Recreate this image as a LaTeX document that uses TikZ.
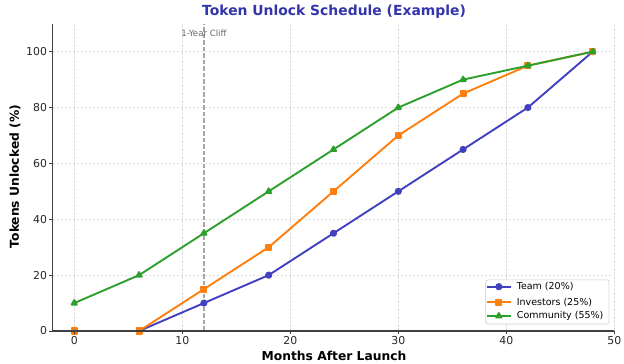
\documentclass[tikz,border=0pt]{standalone}
\usepackage{fontspec}
\setmainfont{DejaVu Sans}
\usepackage{xcolor}
\usepackage{tikz}
\usetikzlibrary{plotmarks}
\definecolor{team}{HTML}{4040C0}
\definecolor{investor}{HTML}{FF7F0E}
\definecolor{community}{HTML}{2CA02C}
\definecolor{heading}{HTML}{3434AC}
\definecolor{spine}{HTML}{404040}

\tikzset{
  gridline/.style={black!13, dash pattern=on 2.5pt off 1.5pt, line width=0.5pt},
  series/.style={line width=1.9pt, mark size=2.6pt, line join=round},
  ticklbl/.style={font=\fontsize{10.9}{12}\selectfont, text=black!85, inner sep=1pt},
  axislbl/.style={font=\fontsize{12.3}{14}\selectfont\bfseries},
  legendtxt/.style={font=\fontsize{9.5}{11}\selectfont, anchor=west, inner sep=0pt}
}

\begin{document}
\begin{tikzpicture}[x=10.8pt, y=2.793pt]
\useasboundingbox (-74.3pt,-33pt) rectangle (549.7pt,331pt);
% grid
\foreach \gx in {0,10,...,50} \draw[gridline] (\gx,0) -- (\gx,110);
\foreach \gy in {20,40,...,100} \draw[gridline] (-2,\gy) -- (50,\gy);
% cliff marker
\draw[black!35, dash pattern=on 4.5pt off 2pt, line width=1.2pt] (12,0) -- (12,110);
\node[font=\fontsize{8.6}{10}\selectfont, text=black!60, inner sep=0pt] (cliff) at (12,106.6) {1-Year Cliff};
% series
\draw[series, team, mark=*] plot coordinates {(0,0) (6,0) (12,10) (18,20) (24,35) (30,50) (36,65) (42,80) (48,100)};
\draw[series, investor, mark=square*] plot coordinates {(0,0) (6,0) (12,15) (18,30) (24,50) (30,70) (36,85) (42,95) (48,100)};
\draw[series, community, mark=triangle*, mark size=3pt] plot coordinates {(0,10) (6,20) (12,35) (18,50) (24,65) (30,80) (36,90) (42,95) (48,100)};
% axes
\draw[spine, line width=1.1pt] (-2,110) -- (-2,0) -- (50,0);
\foreach \gx in {0,10,...,50} {
  \draw[spine, line width=0.9pt] (\gx,0) -- ++(0,-3.5pt);
  \node[ticklbl, anchor=north] (xt\gx) at (\gx,0) [yshift=-4.5pt] {\gx};
}
\foreach \gy in {0,20,...,100} {
  \draw[spine, line width=0.9pt] (-2,\gy) -- ++(-3.5pt,0);
  \node[ticklbl, anchor=east] (yt\gy) at (-2,\gy) [xshift=-4.5pt] {\gy};
}
\node[axislbl] (xlabel) at (24.05,-8.9) {Months After Launch};
\node[axislbl, rotate=90] (ylabel) at (-5.5,55.3) {Tokens Unlocked (\%)};
\node[font=\fontsize{13.9}{16}\selectfont\bfseries, text=heading] (title) at (24.05,114.2) {Token Unlock Schedule (Example)};
% legend
\draw[black!20, fill=white, rounded corners=2pt, line width=0.6pt] (38.1,2.5) rectangle (49.5,18.3);
\draw[series, team, mark=*, mark indices={2}] plot coordinates {(38.21,15.86) (39.31,15.86) (40.41,15.86)};
\node[legendtxt] (lteam) at (40.96,15.86) {Team (20\%)};
\draw[series, investor, mark=square*, mark indices={2}] plot coordinates {(38.21,10.28) (39.31,10.28) (40.41,10.28)};
\node[legendtxt] (linv) at (40.96,10.28) {Investors (25\%)};
\draw[series, community, mark=triangle*, mark size=3pt, mark indices={2}] plot coordinates {(38.21,5.37) (39.31,5.37) (40.41,5.37)};
\node[legendtxt] (lcom) at (40.96,5.37) {Community (55\%)};
\end{tikzpicture}
\end{document}
